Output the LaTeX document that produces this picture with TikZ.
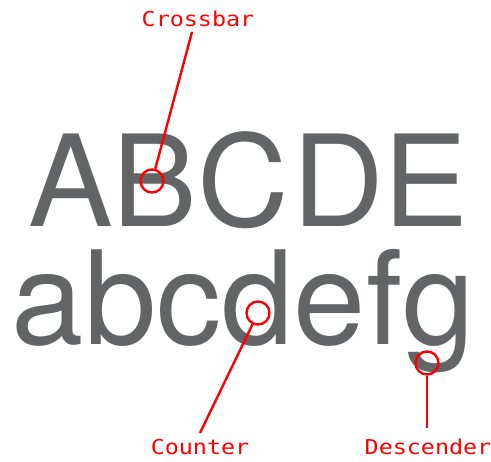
\documentclass[tikz,border=0pt]{standalone}
\usepackage{fontspec}
\newfontfamily\bigfont{TeX Gyre Heros}
\newfontfamily\labelfont[FakeStretch=1.14]{DejaVu Sans Mono}
\definecolor{glyphgray}{RGB}{99,100,102}
\definecolor{markred}{RGB}{255,0,0}
\begin{document}
\begin{tikzpicture}[x=1pt,y=-1pt,
  glyphs/.style={inner sep=0pt,outer sep=0pt,anchor=base west,text=glyphgray,font=\bigfont\fontsize{130}{130}\selectfont},
  capglyphs/.style={glyphs,font=\bigfont\fontsize{127}{127}\selectfont},
  lbl/.style={inner sep=0pt,anchor=base,text=markred,font=\labelfont\fontsize{20.5}{20.5}\selectfont},
  ring/.style={circle,draw=markred,line width=2.4pt,minimum size=23pt,inner sep=0pt},
  pointer/.style={draw=markred,line width=2.4pt}]
\useasboundingbox (0,0) rectangle (491,462);
\node[capglyphs] (upA) at (28,227) {A};
\node[capglyphs] (upB) at (112,227) {B};
\node[capglyphs] (upC) at (197,227) {C};
\node[capglyphs] (upD) at (292,227) {D};
\node[capglyphs] (upE) at (383,227) {E};
\node[glyphs] (lower) at (12,345) {abcdefg};
\node[lbl] (crossbar) at (198,27) {Crossbar};
\node[lbl] (counter) at (200,455) {Counter};
\node[lbl] (descender) at (428,455) {Descender};
\node[ring] (cb) at (152,181) {};
\node[ring] (ct) at (258,313) {};
\node[ring] (ds) at (427,363) {};
\coordinate (cbend) at (192,32);
\coordinate (ctend) at (200,433);
\coordinate (dsend) at (427,428);
\draw[pointer] (cbend) -- (cb);
\draw[pointer] (ctend) -- (ct);
\draw[pointer] (dsend) -- (ds);
\end{tikzpicture}
\end{document}
